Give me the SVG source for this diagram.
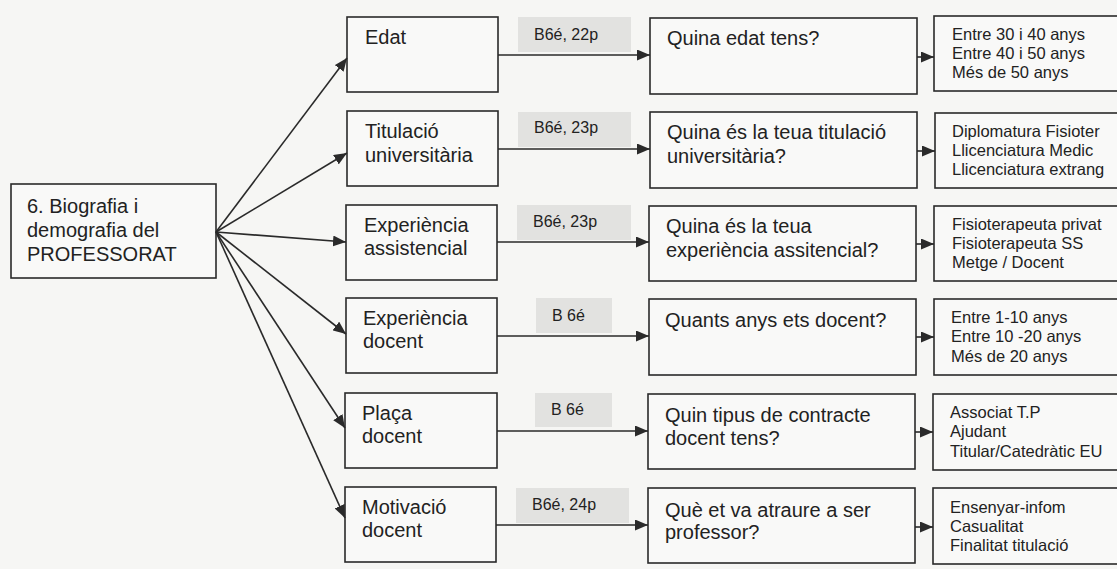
<svg xmlns="http://www.w3.org/2000/svg" width="1117" height="569" viewBox="0 0 1117 569">
<style>
.bg{fill:#f6f6f4}
.box{fill:#f9f9f8;stroke:#2a2a2a;stroke-width:1.6}
.tag{fill:#e2e2e0;stroke:none}
.t{font-family:"Liberation Sans",Arial,sans-serif;fill:#222}
.big{font-size:20px}
.ans{font-size:16.5px}
.lab{font-size:16px}
.con{fill:none;stroke:#2a2a2a;stroke-width:1.6}
</style>
<defs>
<marker id="ah" markerUnits="userSpaceOnUse" markerWidth="13" markerHeight="11" refX="13" refY="5.5" orient="auto">
<path d="M0,0 L13,5.5 L0,11 z" fill="#2a2a2a"/>
</marker>
</defs>
<rect class="bg" x="0" y="0" width="1117" height="569"/>

<g id="main">
<rect class="box" x="11" y="184" width="205" height="94"/>
<text class="t big" x="27" y="213">6. Biografia i</text>
<text class="t big" x="27" y="237">demografia del</text>
<text class="t big" x="27" y="261">PROFESSORAT</text>
</g>

<g id="n-edat">
<rect class="box" x="347" y="17" width="151" height="75"/>
<text class="t big" x="365" y="44">Edat</text>
</g>
<g id="n-titulacio">
<rect class="box" x="347" y="111" width="151" height="75"/>
<text class="t big" x="365" y="138">Titulació</text>
<text class="t big" x="365" y="162">universitària</text>
</g>
<g id="n-expassist">
<rect class="box" x="346" y="205" width="151" height="75"/>
<text class="t big" x="364" y="232">Experiència</text>
<text class="t big" x="364" y="255">assistencial</text>
</g>
<g id="n-expdocent">
<rect class="box" x="346" y="298" width="151" height="75"/>
<text class="t big" x="363" y="325">Experiència</text>
<text class="t big" x="363" y="348">docent</text>
</g>
<g id="n-placa">
<rect class="box" x="345" y="393" width="152" height="75"/>
<text class="t big" x="362" y="420">Plaça</text>
<text class="t big" x="362" y="443">docent</text>
</g>
<g id="n-motivacio">
<rect class="box" x="345" y="487" width="151" height="75"/>
<text class="t big" x="362" y="514">Motivació</text>
<text class="t big" x="362" y="537">docent</text>
</g>

<g id="tags">
<g id="tag1"><rect class="tag" x="518" y="17" width="113" height="35"/><text class="t lab" x="534" y="40">B6é, 22p</text></g>
<g id="tag2"><rect class="tag" x="518" y="112" width="113" height="35"/><text class="t lab" x="534" y="133">B6é, 23p</text></g>
<g id="tag3"><rect class="tag" x="517" y="205" width="114" height="35"/><text class="t lab" x="533" y="227">B6é, 23p</text></g>
<g id="tag4"><rect class="tag" x="536" y="298" width="76" height="35"/><text class="t lab" x="552" y="321">B 6é</text></g>
<g id="tag5"><rect class="tag" x="535" y="393" width="77" height="34"/><text class="t lab" x="551" y="415">B 6é</text></g>
<g id="tag6"><rect class="tag" x="516" y="488" width="113" height="35"/><text class="t lab" x="532" y="510">B6é, 24p</text></g>
</g>

<g id="q-edat">
<rect class="box" x="650" y="18" width="267" height="76"/>
<text class="t big" x="667" y="45">Quina edat tens?</text>
</g>
<g id="q-titulacio">
<rect class="box" x="650" y="112" width="267" height="76"/>
<text class="t big" x="667" y="139">Quina és la teua titulació</text>
<text class="t big" x="667" y="163">universitària?</text>
</g>
<g id="q-expassist">
<rect class="box" x="649" y="206" width="267" height="75"/>
<text class="t big" x="666" y="233">Quina és la teua</text>
<text class="t big" x="666" y="257">experiència assitencial?</text>
</g>
<g id="q-expdocent">
<rect class="box" x="649" y="299" width="267" height="76"/>
<text class="t big" x="665" y="327">Quants anys ets docent?</text>
</g>
<g id="q-placa">
<rect class="box" x="648" y="394" width="267" height="75"/>
<text class="t big" x="665" y="422">Quin tipus de contracte</text>
<text class="t big" x="665" y="445">docent tens?</text>
</g>
<g id="q-motivacio">
<rect class="box" x="648" y="488" width="267" height="75"/>
<text class="t big" x="665" y="517">Què et va atraure a ser</text>
<text class="t big" x="665" y="539">professor?</text>
</g>

<g id="a-edat">
<rect class="box" x="934" y="16" width="200" height="75"/>
<text class="t ans" x="952" y="40">Entre 30 i 40 anys</text>
<text class="t ans" x="952" y="59">Entre 40 i 50 anys</text>
<text class="t ans" x="952" y="78">Més de 50 anys</text>
</g>
<g id="a-titulacio">
<rect class="box" x="935" y="113" width="200" height="75"/>
<text class="t ans" x="952" y="137">Diplomatura Fisioter</text>
<text class="t ans" x="952" y="156">Llicenciatura Medic</text>
<text class="t ans" x="952" y="175">Llicenciatura extrang</text>
</g>
<g id="a-expassist">
<rect class="box" x="934" y="206" width="200" height="75"/>
<text class="t ans" x="952" y="230">Fisioterapeuta privat</text>
<text class="t ans" x="952" y="249">Fisioterapeuta SS</text>
<text class="t ans" x="952" y="268">Metge / Docent</text>
</g>
<g id="a-expdocent">
<rect class="box" x="934" y="299" width="200" height="76"/>
<text class="t ans" x="951" y="323">Entre 1-10 anys</text>
<text class="t ans" x="951" y="342">Entre 10 -20 anys</text>
<text class="t ans" x="951" y="362">Més de 20 anys</text>
</g>
<g id="a-placa">
<rect class="box" x="933" y="394" width="200" height="76"/>
<text class="t ans" x="950" y="418">Associat T.P</text>
<text class="t ans" x="950" y="437">Ajudant</text>
<text class="t ans" x="950" y="457">Titular/Catedràtic EU</text>
</g>
<g id="a-motivacio">
<rect class="box" x="933" y="488" width="200" height="76"/>
<text class="t ans" x="950" y="513">Ensenyar-infom</text>
<text class="t ans" x="950" y="532">Casualitat</text>
<text class="t ans" x="950" y="551">Finalitat titulació</text>
</g>

<g id="connectors">
<path class="con" marker-end="url(#ah)" d="M216,232 L347,58"/>
<path class="con" marker-end="url(#ah)" d="M216,232 L347,153"/>
<path class="con" marker-end="url(#ah)" d="M216,232 L346,242"/>
<path class="con" marker-end="url(#ah)" d="M216,232 L346,334"/>
<path class="con" marker-end="url(#ah)" d="M216,232 L345,428"/>
<path class="con" marker-end="url(#ah)" d="M216,232 L345,518"/>
<path class="con" marker-end="url(#ah)" d="M498,55 L650,55"/>
<path class="con" marker-end="url(#ah)" d="M498,149 L650,149"/>
<path class="con" marker-end="url(#ah)" d="M497,242 L649,242"/>
<path class="con" marker-end="url(#ah)" d="M497,336 L649,336"/>
<path class="con" marker-end="url(#ah)" d="M497,431 L648,431"/>
<path class="con" marker-end="url(#ah)" d="M496,525 L648,525"/>
<path class="con" marker-end="url(#ah)" d="M917,57 L934,57"/>
<path class="con" marker-end="url(#ah)" d="M917,151 L935,151"/>
<path class="con" marker-end="url(#ah)" d="M916,244 L934,244"/>
<path class="con" marker-end="url(#ah)" d="M916,337 L934,337"/>
<path class="con" marker-end="url(#ah)" d="M915,432 L933,432"/>
<path class="con" marker-end="url(#ah)" d="M915,527 L933,527"/>
</g>
</svg>
